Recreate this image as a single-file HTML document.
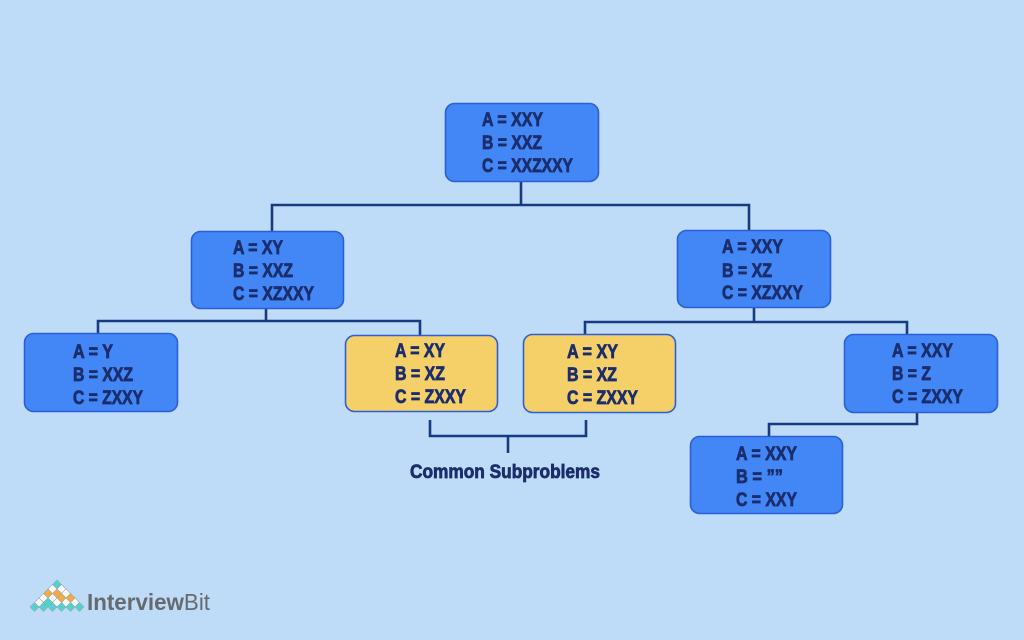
<!DOCTYPE html>
<html>
<head>
<meta charset="utf-8">
<style>
  html,body{margin:0;padding:0;background:#bedcf8;}
  svg{display:block;}
  .t{font-family:"Liberation Sans",sans-serif;font-weight:bold;font-size:19px;fill:#1b2d6c;stroke:#1b2d6c;stroke-width:0.75px;}
</style>
</head>
<body>
<svg width="1024" height="640" viewBox="0 0 1024 640" xmlns="http://www.w3.org/2000/svg">
  <rect x="0" y="0" width="1024" height="640" fill="#bedcf8"/>

  <!-- connectors -->
  <g fill="none" stroke="#173b82" stroke-width="2.6" stroke-linejoin="miter">
    <path d="M521 182 V205"/>
    <path d="M272 231 V205 H749 V230"/>
    <path d="M266 309 V321"/>
    <path d="M98 333 V321 H420 V335"/>
    <path d="M754 308 V322"/>
    <path d="M585 334 V322 H907 V334"/>
    <path d="M917 413 V424 H769 V436"/>
    <path d="M430 420 V436 H586 V420"/>
    <path d="M508 436 V453"/>
  </g>

  <!-- boxes -->
  <g stroke="#2c5fd4" stroke-width="1.6">
    <rect x="445.5" y="103.5" width="153" height="78" rx="9" fill="#4287f5"/>
    <rect x="191.5" y="231.5" width="152" height="77" rx="9" fill="#4287f5"/>
    <rect x="677.5" y="230.5" width="153" height="77" rx="9" fill="#4287f5"/>
    <rect x="24.5" y="333.5" width="153" height="78" rx="9" fill="#4287f5"/>
    <rect x="345.5" y="335.5" width="152" height="76" rx="9" fill="#f5d068"/>
    <rect x="523.5" y="334.5" width="152" height="78" rx="9" fill="#f5d068"/>
    <rect x="844.5" y="334.5" width="153" height="78" rx="9" fill="#4287f5"/>
    <rect x="690.5" y="436.5" width="152" height="77" rx="9" fill="#4287f5"/>
  </g>

  <!-- texts -->
  <g class="t">
    <!-- root -->
    <text x="482" y="126" textLength="61" lengthAdjust="spacingAndGlyphs">A = XXY</text>
    <text x="482" y="149" textLength="60" lengthAdjust="spacingAndGlyphs">B = XXZ</text>
    <text x="482" y="172" textLength="91" lengthAdjust="spacingAndGlyphs">C = XXZXXY</text>
    <!-- L1 -->
    <text x="233" y="254" textLength="50" lengthAdjust="spacingAndGlyphs">A = XY</text>
    <text x="233" y="277" textLength="60" lengthAdjust="spacingAndGlyphs">B = XXZ</text>
    <text x="233" y="300" textLength="81" lengthAdjust="spacingAndGlyphs">C = XZXXY</text>
    <!-- R1 -->
    <text x="722" y="253" textLength="61" lengthAdjust="spacingAndGlyphs">A = XXY</text>
    <text x="722" y="277" textLength="50" lengthAdjust="spacingAndGlyphs">B = XZ</text>
    <text x="722" y="299" textLength="81" lengthAdjust="spacingAndGlyphs">C = XZXXY</text>
    <!-- LL -->
    <text x="73" y="358" textLength="40" lengthAdjust="spacingAndGlyphs">A = Y</text>
    <text x="73" y="381" textLength="60" lengthAdjust="spacingAndGlyphs">B = XXZ</text>
    <text x="73" y="404" textLength="70" lengthAdjust="spacingAndGlyphs">C = ZXXY</text>
    <!-- YL -->
    <text x="395" y="357" textLength="50" lengthAdjust="spacingAndGlyphs">A = XY</text>
    <text x="395" y="380" textLength="50" lengthAdjust="spacingAndGlyphs">B = XZ</text>
    <text x="395" y="403" textLength="71" lengthAdjust="spacingAndGlyphs">C = ZXXY</text>
    <!-- YR -->
    <text x="567" y="358" textLength="51" lengthAdjust="spacingAndGlyphs">A = XY</text>
    <text x="567" y="381" textLength="50" lengthAdjust="spacingAndGlyphs">B = XZ</text>
    <text x="567" y="404" textLength="71" lengthAdjust="spacingAndGlyphs">C = ZXXY</text>
    <!-- RR -->
    <text x="892" y="357" textLength="61" lengthAdjust="spacingAndGlyphs">A = XXY</text>
    <text x="892" y="380" textLength="39" lengthAdjust="spacingAndGlyphs">B = Z</text>
    <text x="892" y="403" textLength="71" lengthAdjust="spacingAndGlyphs">C = ZXXY</text>
    <!-- Bottom -->
    <text x="736" y="460" textLength="61" lengthAdjust="spacingAndGlyphs">A = XXY</text>
    <text x="736" y="483" textLength="47" lengthAdjust="spacingAndGlyphs">B = ””</text>
    <text x="736" y="506" textLength="61" lengthAdjust="spacingAndGlyphs">C = XXY</text>
    <!-- label -->
    <text x="410" y="478" font-size="19" textLength="190" lengthAdjust="spacingAndGlyphs">Common Subproblems</text>
  </g>

  <!-- logo -->
  <g stroke="#9aa6b0" stroke-width="0.6">
    <path d="M57 580 l4.5 4.5 l-4.5 4.5 l-4.5 -4.5 z" fill="#4fd3cf"/>
    <path d="M52.5 584.5 l4.5 4.5 l-4.5 4.5 l-4.5 -4.5 z" fill="#ffffff"/>
    <path d="M61.5 584.5 l4.5 4.5 l-4.5 4.5 l-4.5 -4.5 z" fill="#ffffff"/>
    <path d="M48 589 l4.5 4.5 l-4.5 4.5 l-4.5 -4.5 z" fill="#f6ab3d"/>
    <path d="M57 589 l4.5 4.5 l-4.5 4.5 l-4.5 -4.5 z" fill="#f6ab3d"/>
    <path d="M66 589 l4.5 4.5 l-4.5 4.5 l-4.5 -4.5 z" fill="#ffffff"/>
    <path d="M43.5 593.5 l4.5 4.5 l-4.5 4.5 l-4.5 -4.5 z" fill="#ffffff"/>
    <path d="M52.5 593.5 l4.5 4.5 l-4.5 4.5 l-4.5 -4.5 z" fill="#ffffff"/>
    <path d="M61.5 593.5 l4.5 4.5 l-4.5 4.5 l-4.5 -4.5 z" fill="#f6ab3d"/>
    <path d="M70.5 593.5 l4.5 4.5 l-4.5 4.5 l-4.5 -4.5 z" fill="#f6ab3d"/>
    <path d="M39 598 l4.5 4.5 l-4.5 4.5 l-4.5 -4.5 z" fill="#ffffff"/>
    <path d="M48 598 l4.5 4.5 l-4.5 4.5 l-4.5 -4.5 z" fill="#4fd3cf"/>
    <path d="M57 598 l4.5 4.5 l-4.5 4.5 l-4.5 -4.5 z" fill="#ffffff"/>
    <path d="M66 598 l4.5 4.5 l-4.5 4.5 l-4.5 -4.5 z" fill="#ffffff"/>
    <path d="M75 598 l4.5 4.5 l-4.5 4.5 l-4.5 -4.5 z" fill="#ffffff"/>
    <path d="M34.5 602.5 l4.5 4.5 l-4.5 4.5 l-4.5 -4.5 z" fill="#4fd3cf"/>
    <path d="M43.5 602.5 l4.5 4.5 l-4.5 4.5 l-4.5 -4.5 z" fill="#4fd3cf"/>
    <path d="M52.5 602.5 l4.5 4.5 l-4.5 4.5 l-4.5 -4.5 z" fill="#4fd3cf"/>
    <path d="M61.5 602.5 l4.5 4.5 l-4.5 4.5 l-4.5 -4.5 z" fill="#4fd3cf"/>
    <path d="M70.5 602.5 l4.5 4.5 l-4.5 4.5 l-4.5 -4.5 z" fill="#4fd3cf"/>
    <path d="M79.5 602.5 l4.5 4.5 l-4.5 4.5 l-4.5 -4.5 z" fill="#4fd3cf"/>
  </g>
  <text x="87" y="610" font-family="Liberation Sans, sans-serif" font-size="23" fill="#666a6e" textLength="123" lengthAdjust="spacingAndGlyphs"><tspan font-weight="bold">Interview</tspan><tspan>Bit</tspan></text>
</svg>
</body>
</html>
